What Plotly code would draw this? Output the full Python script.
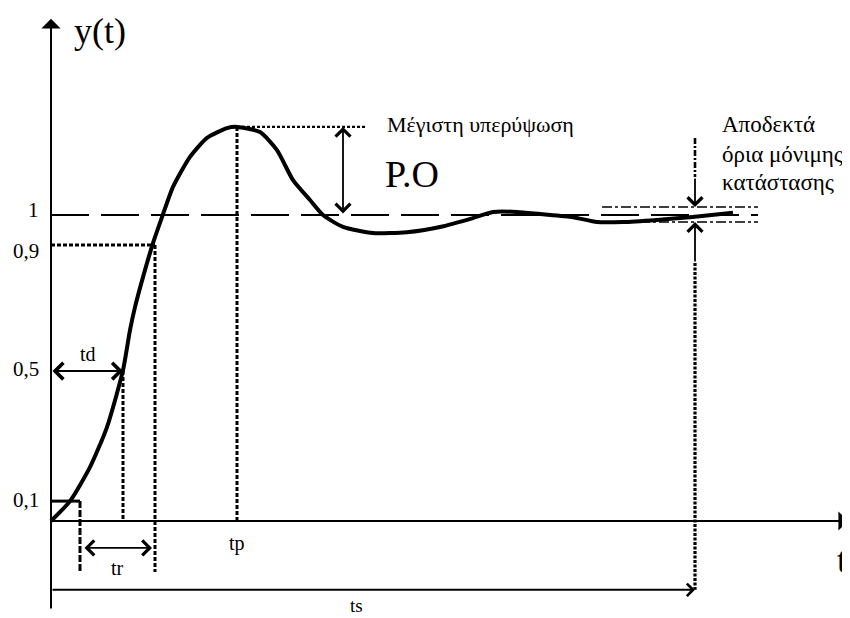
import plotly.graph_objects as go

# ---- data (time t, response y) ----
t_curve = [0.00, 0.19, 0.39, 0.56, 0.72, 0.79, 0.84, 0.92, 1.02, 1.11, 1.22, 1.39, 1.56,
           1.76, 1.86, 2.09, 2.26, 2.42, 2.59, 2.72, 2.92, 3.22, 3.56, 3.89, 4.22, 4.42,
           4.66, 4.89, 5.22, 5.46, 5.72, 6.06, 6.39, 6.82]
y_curve = [0.000, 0.065, 0.176, 0.307, 0.493, 0.624, 0.699, 0.797, 0.908, 0.993, 1.092,
           1.190, 1.252, 1.284, 1.288, 1.271, 1.212, 1.114, 1.049, 1.000, 0.961, 0.941,
           0.944, 0.961, 0.990, 1.010, 1.010, 1.003, 0.993, 0.977, 0.977, 0.984, 0.993,
           1.007]

t_10, t_50, t_90 = 0.29, 0.72, 1.04
t_peak, t_po, t_settle = 1.86, 2.92, 6.44
y_10, y_50, y_90, y_final, y_peak = 0.065, 0.490, 0.902, 1.000, 1.288
band_hi, band_lo = 1.026, 0.977
t_band_start, t_ref_end = 5.51, 7.07

level_values = [y_10, y_50, y_90, y_final]
level_labels = ["0,1", "0,5", "0,9", "1"]
level_shift = [1, 2, -6, 5]

# layout geometry (diagram space); the page body adds an 8px margin
x_min, x_max = -0.43, 7.99
y_min, y_max = -0.31699, 1.6765
y_axis_bottom, y_axis_tip = -0.291, 1.641
x_axis_tip = 7.97
y_tr, y_guide_bottom, y_ts = -0.088, -0.167, -0.225

SERIF = "Liberation Serif, DejaVu Serif, serif"
K = "black"

fig = go.Figure()


def seg(xs, ys, width=2.5, dash="solid"):
    fig.add_trace(go.Scatter(x=xs, y=ys, mode="lines",
                             line=dict(color=K, width=width, dash=dash),
                             hoverinfo="skip"))


# reference level 1 (long dashes)
seg([0, t_ref_end], [y_final, y_final], 1.8, "38px,12px")
# tolerance band
seg([t_band_start, t_ref_end], [band_hi, band_hi], 1.6, "10px,3px,3px,3px")
seg([t_band_start, t_ref_end], [band_lo, band_lo], 1.6, "10px,3px,3px,3px")

# 10% guides
seg([0, t_10], [y_10, y_10], 3)
seg([t_10, t_10], [y_10, y_guide_bottom], 3, "7px,2px")
# 50% guide
seg([t_50, t_50], [y_50, 0], 3, "4px,2px")
# 90% guides
seg([0, t_90], [y_90, y_90], 3, "4px,2px")
seg([t_90, t_90], [y_90, y_guide_bottom], 3, "4px,2px")
# peak guides
seg([t_peak, 3.15], [y_peak, y_peak], 2.4, "3px,2px")
seg([t_peak, t_peak], [y_peak, 0], 3, "4px,2px")
# settling time guides
seg([t_settle, t_settle], [1.252, 1.124], 2.6, "6px,2px,2px,2px")
seg([t_settle, t_settle], [0.843, y_ts], 3.2, "3px,1.5px")

# response curve
fig.add_trace(go.Scatter(x=t_curve, y=y_curve, mode="lines",
                         line=dict(color=K, width=4, shape="spline", smoothing=0.6),
                         hoverinfo="skip"))

ann = []


def arrow(x, y, ax, ay, head=4, size=1.6, width=1.6, both=False):
    d = dict(x=x, y=y, ax=ax, ay=ay, xref="x", yref="y", axref="x", ayref="y",
             text="", showarrow=True, arrowhead=head, arrowsize=size,
             arrowwidth=width, arrowcolor=K, standoff=0, startstandoff=0)
    if both:
        d.update(arrowside="end+start", startarrowhead=head, startarrowsize=size)
    ann.append(d)


# axes
arrow(0, y_axis_tip, 0, y_axis_bottom, head=1, size=1.6, width=2)
arrow(x_axis_tip, 0, 0, 0, head=1, size=1.6, width=2)
# measurement arrows
arrow(t_50, y_50, 0, y_50, both=True, width=2)
arrow(t_90 - 0.03, y_tr, t_10 + 0.03, y_tr, both=True, width=1.8)
arrow(t_po, y_peak, t_po, y_final, both=True, width=1.8)
arrow(t_settle, y_ts, 0, y_ts, size=1.2, width=2)
arrow(t_settle, band_hi, t_settle, 1.124, width=1.8)
arrow(t_settle, band_lo, t_settle, 0.843, width=1.8)


def label(x, y, s, size=20, xanchor="center", yshift=0):
    ann.append(dict(x=x, y=y, xref="x", yref="y", text=s, showarrow=False,
                    xanchor=xanchor, yanchor="middle", yshift=yshift,
                    font=dict(family=SERIF, size=size, color=K)))


for v, s, sh in zip(level_values, level_labels, level_shift):
    label(-0.10, v, s, size=21, xanchor="right", yshift=sh)

label(0.49, 1.601, "y(t)", size=36)
label(7.98, -0.127, "t", size=36, xanchor="right")
label(0.37, y_50, "td", yshift=17)
label(0.66, y_tr, "tr", yshift=-20)
label(t_peak, 0, "tp", yshift=-22)
label(3.05, y_ts, "ts", size=19, yshift=-16)
label(3.34, 1.297, "Μέγιστη υπερύψωση", size=22, xanchor="left")
label(3.32, 1.134, "P.O", size=38, xanchor="left")
label(6.69, 1.297, "Αποδεκτά", size=23, xanchor="left")
label(6.69, 1.199, "όρια μόνιμης", size=23, xanchor="left")
label(6.69, 1.105, "κατάστασης", size=23, xanchor="left")

fig.update_layout(
    width=842, height=610, margin=dict(l=0, r=0, t=0, b=0),
    paper_bgcolor="white", plot_bgcolor="white", showlegend=False,
    xaxis=dict(range=[x_min, x_max], visible=False, fixedrange=True),
    yaxis=dict(range=[y_min, y_max], visible=False, fixedrange=True),
    annotations=ann,
)

fig.write_html("out.html")
